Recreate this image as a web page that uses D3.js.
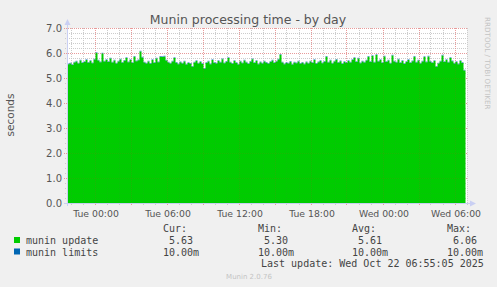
<!DOCTYPE html>
<html>
<head>
<meta charset="utf-8">
<script src="https://cdn.jsdelivr.net/npm/d3@7"></script>
<style>
  body { margin: 0; background: #f0f0f0; }
  text { font-family: "DejaVu Sans", sans-serif; }
  .mono { font-family: "DejaVu Sans Mono", monospace; white-space: pre; }
</style>
</head>
<body>
<svg id="chart"></svg>
<script>
// munin update, one sample every 10 minutes, Mon 21:45 -> Wed 06:55 (seconds)
const updateValues = [
  5.55,5.58,5.52,5.62,5.66,5.58,5.70,5.60,5.64,5.72,5.61,5.68,5.59,5.74,6.00,5.70,5.63,5.98,5.66,5.72,
  5.64,5.78,5.62,5.70,5.58,5.66,5.74,5.61,5.69,5.80,5.63,5.72,5.60,5.85,5.67,5.71,6.06,5.82,5.62,5.58,
  5.66,5.57,5.72,5.60,5.78,5.63,5.85,5.84,5.86,5.70,5.62,5.58,5.66,5.80,5.61,5.55,5.63,5.58,5.66,5.54,
  5.60,5.57,5.45,5.62,5.68,5.58,5.64,5.56,5.37,5.60,5.66,5.55,5.72,5.60,5.58,5.68,5.62,5.75,5.59,5.65,
  5.80,5.62,5.57,5.68,5.60,5.54,5.66,5.59,5.70,5.62,5.56,5.65,5.75,5.60,5.68,5.55,5.63,5.58,5.66,5.61,
  5.57,5.64,5.70,5.60,5.66,5.74,5.93,5.62,5.55,5.60,5.58,5.65,5.54,5.62,5.59,5.66,5.57,5.61,5.55,5.63,
  5.58,5.66,5.60,5.72,5.57,5.63,5.68,5.59,5.65,5.85,5.62,5.70,5.58,5.66,5.73,5.61,5.67,5.56,5.64,5.60,
  5.68,5.62,5.72,5.80,5.64,5.78,5.59,5.66,5.62,5.70,5.85,5.64,5.88,5.62,5.92,5.66,5.72,5.60,5.86,5.64,
  5.70,5.58,5.90,5.66,5.62,5.74,5.60,5.68,5.56,5.64,5.72,5.60,5.67,5.85,5.62,5.70,5.58,5.66,5.84,5.63,
  5.86,5.65,5.60,5.68,5.45,5.58,5.66,5.90,5.64,5.72,5.62,5.80,5.67,5.58,5.64,5.55,5.68,5.60,5.30,5.63
];
// munin limits is 10ms, stacked on top
const limitValue = 0.01;

const firstSample = new Date(2025, 9, 20, 21, 45, 0);
const graphStart = new Date(2025, 9, 20, 21, 42, 30);
const graphEnd = new Date(2025, 9, 22, 7, 2, 30);

const yTicks = [0, 1, 2, 3, 4, 5, 6, 7];

const legendNames = ['munin update', 'munin limits'];
const legendColors = ['#00cc00', '#0066b3'];
const legendHeads = ['Cur:', 'Min:', 'Avg:', 'Max:'];
const legendRows = [
  [' 5.63', ' 5.30', ' 5.61', ' 6.06'],
  ['10.00m', '10.00m', '10.00m', '10.00m']
];

const W = 497, H = 287;
const plotL = 67, plotR = 467, plotT = 28, plotB = 203;

const svg = d3.select('#chart').attr('width', W).attr('height', H);
svg.append('rect').attr('width', W).attr('height', H).attr('fill', '#f0f0f0');

const x = d3.scaleTime().domain([graphStart, graphEnd]).range([plotL, plotR]);
const y = d3.scaleLinear().domain([0, 7]).range([plotB, plotT]);

// canvas
svg.append('rect')
  .attr('x', plotL).attr('y', plotT)
  .attr('width', plotR - plotL).attr('height', plotB - plotT)
  .attr('fill', '#fff');

const minorX = d3.timeHour.every(1).range(graphStart, graphEnd)
  .filter(d => d.getHours() % 3 !== 0);
const majorX = d3.timeHour.every(3).range(graphStart, graphEnd);
const minorY = d3.range(0, 7.01, 0.2).filter(v => Math.abs(v - Math.round(v)) > 0.01);

function drawGrid(g, minorColor, majorColor) {
  g.selectAll('.mx').data(minorX).enter().append('line')
    .attr('x1', d => Math.round(x(d)) + 0.5).attr('x2', d => Math.round(x(d)) + 0.5)
    .attr('y1', plotT).attr('y2', plotB + 2)
    .attr('stroke', minorColor).attr('stroke-dasharray', '1,1');
  g.selectAll('.my').data(minorY).enter().append('line')
    .attr('x1', plotL - 2).attr('x2', plotR)
    .attr('y1', d => Math.round(y(d)) + 0.5).attr('y2', d => Math.round(y(d)) + 0.5)
    .attr('stroke', minorColor).attr('stroke-dasharray', '1,1');
  g.selectAll('.Mx').data(majorX).enter().append('line')
    .attr('x1', d => Math.round(x(d)) + 0.5).attr('x2', d => Math.round(x(d)) + 0.5)
    .attr('y1', plotT).attr('y2', plotB + 3)
    .attr('stroke', majorColor).attr('stroke-dasharray', '1,1');
  g.selectAll('.My').data(yTicks).enter().append('line')
    .attr('x1', plotL - 3).attr('x2', plotR)
    .attr('y1', d => Math.round(y(d)) + 0.5).attr('y2', d => Math.round(y(d)) + 0.5)
    .attr('stroke', majorColor).attr('stroke-dasharray', '1,1');
}

// grid under the graph
drawGrid(svg.append('g'), '#d4d4d4', '#eaaaaa');

const data = updateValues.map((v, i) => ({
  t: new Date(+firstSample + i * 600000),
  v: v
}));
data[0].t = graphStart; // stretch first sample to the left edge

const area = d3.area()
  .curve(d3.curveStepAfter)
  .x(d => x(d.t))
  .y0(y(0))
  .y1(d => y(d.v));

svg.append('path').datum(data)
  .attr('d', area)
  .attr('fill', '#00cc00');

// limits stacked on top
const limitArea = d3.area()
  .curve(d3.curveStepAfter)
  .x(d => x(d.t))
  .y0(d => y(d.v))
  .y1(d => y(d.v + limitValue) - 0.6);

svg.append('path').datum(data)
  .attr('d', limitArea)
  .attr('fill', '#0066b3')
  .attr('opacity', 0.7);

// faint grid showing through the area
drawGrid(svg.append('g'), 'rgba(100,100,100,0.07)', 'rgba(220,40,40,0.12)');

// axes with arrows
const axisColor = '#c9cff3';
svg.append('line')
  .attr('x1', plotL + 0.5).attr('x2', plotL + 0.5).attr('y1', plotB + 3).attr('y2', plotT - 6)
  .attr('stroke', axisColor);
svg.append('line')
  .attr('x1', plotL - 3).attr('x2', plotR + 4).attr('y1', plotB + 0.5).attr('y2', plotB + 0.5)
  .attr('stroke', axisColor);
svg.append('path')
  .attr('d', `M${plotL - 2.5},${plotT - 3} L${plotL + 0.5},${plotT - 9} L${plotL + 3.5},${plotT - 3} Z`)
  .attr('fill', axisColor);
svg.append('path')
  .attr('d', `M${plotR + 3},${plotB - 2.5} L${plotR + 9},${plotB + 0.5} L${plotR + 3},${plotB + 3.5} Z`)
  .attr('fill', axisColor);

// tick labels
svg.append('g').selectAll('text').data(yTicks).enter().append('text')
  .attr('x', plotL - 5).attr('y', d => y(d) + 3.5)
  .attr('text-anchor', 'end')
  .attr('font-size', 10).attr('fill', '#555')
  .text(d => d.toFixed(1));

const fmt = d3.timeFormat('%a %H:%M');
svg.append('g').selectAll('text')
  .data(d3.timeHour.every(6).range(graphStart, graphEnd)).enter().append('text')
  .attr('x', d => x(d) + 1.5).attr('y', plotB + 13.5)
  .attr('text-anchor', 'middle')
  .attr('font-size', 9.3).attr('fill', '#555')
  .text(d => fmt(d));

// title and side labels
svg.append('text')
  .attr('x', 248).attr('y', 24)
  .attr('text-anchor', 'middle')
  .attr('font-size', 12.5).attr('fill', '#555')
  .text('Munin processing time - by day');

svg.append('text')
  .attr('transform', 'translate(14,115) rotate(-90)')
  .attr('text-anchor', 'middle')
  .attr('font-size', 10.5).attr('fill', '#555')
  .text('seconds');

svg.append('text')
  .attr('transform', 'translate(485,17) rotate(90)')
  .attr('font-size', 7.2).attr('fill', '#c4c4c4')
  .text('RRDTOOL / TOBI OETIKER');

// legend
const cols = [163, 258, 352, 447];
const leg = svg.append('g').attr('font-size', 10).attr('fill', '#444');

leg.selectAll('.head').data(legendHeads).enter().append('text')
  .attr('class', 'mono')
  .attr('x', (d, i) => cols[i]).attr('y', 232)
  .text(d => d);

legendNames.forEach((name, r) => {
  const yy = 244 + r * 11.5;
  leg.append('rect')
    .attr('x', 14).attr('y', yy - 7)
    .attr('width', 6).attr('height', 6)
    .attr('fill', legendColors[r]);
  leg.append('text').attr('class', 'mono')
    .attr('x', 26).attr('y', yy)
    .text(name);
  leg.selectAll('.v' + r).data(legendRows[r]).enter().append('text')
    .attr('class', 'mono')
    .attr('x', (d, i) => cols[i]).attr('y', yy)
    .text(d => d);
});

leg.append('text').attr('class', 'mono')
  .attr('x', 261).attr('y', 267)
  .text('Last update: Wed Oct 22 06:55:05 2025');

svg.append('text')
  .attr('x', 249).attr('y', 279)
  .attr('text-anchor', 'middle')
  .attr('font-size', 7).attr('fill', '#c4c4c4')
  .text('Munin 2.0.76');
</script>
</body>
</html>
